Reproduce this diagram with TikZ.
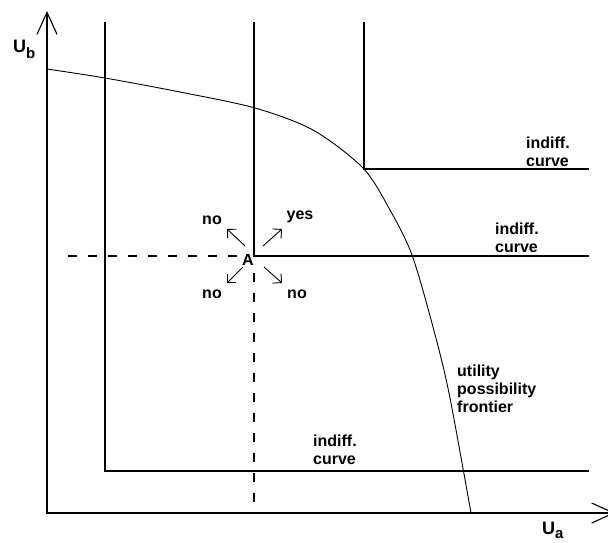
\documentclass[tikz,border=0pt]{standalone}
\usepackage{fontspec}
\setmainfont{Liberation Sans}
\usetikzlibrary{arrows.meta,calc}
\tikzset{
    axisline/.style={line width=1.1pt,
        {Straight Barb[length=22pt, width=20pt]}-{Straight Barb[length=22pt, width=20pt]}},
    indiffline/.style={line width=1.1pt},
    guideline/.style={line width=1.1pt, dash pattern=on 9pt off 11pt},
    frontierline/.style={line width=0.9pt},
    movearrow/.style={line width=0.9pt, -{Straight Barb[angle=90:9pt]}},
    lbl/.style={font=\bfseries\fontsize{16}{18}\selectfont, inner sep=0pt, align=left}
}

\begin{document}
\begin{tikzpicture}[x=1pt, y=-1pt]
\useasboundingbox (0,0) rectangle (608,542);
\clip (0,0) rectangle (608,542);
\coordinate (ytip) at (47,11);
\coordinate (origin) at (47,513);
\coordinate (xtip) at (615,513);
\coordinate (A) at (254,256);
\draw[axisline] (ytip) -- (origin) -- (xtip);
\draw[indiffline] (105,22) -- (105,471) -- (589,471);
\draw[indiffline] (254,22) -- (A) -- (589,256);
\draw[indiffline] (364,22) -- (364,169) -- (589,169);
\draw[frontierline] plot[smooth] coordinates {(47,69) (105,78) (180,92) (255,108)
    (313,130) (363,168) (390,210) (412,255) (433,327) (449,393) (471,513)};
\draw[guideline] (237,256) -- (58,256);
\draw[guideline] (254,502) -- (254,268);
\draw[movearrow] ($(A)+(-9,-10)$) -- ($(A)+(-27,-27)$);
\draw[movearrow] ($(A)+(9,-10)$) -- ($(A)+(28,-27)$);
\draw[movearrow] ($(A)+(-11,11)$) -- ($(A)+(-27,27)$);
\draw[movearrow] ($(A)+(10,11)$) -- ($(A)+(28,27)$);
\node[lbl, anchor=base] (Alabel) at (248,265) {A};
\node[lbl, anchor=base] (yes) at (300,219) {yes};
\node[lbl, anchor=base] (noNW) at (212,224) {no};
\node[lbl, anchor=base] (noSW) at (212,298) {no};
\node[lbl, anchor=base] (noSE) at (297,298) {no};
\node[lbl, anchor=north west] (indiffTop) at (526,137) {indiff.\\curve};
\node[lbl, anchor=north west] (indiffMid) at (495,223) {indiff.\\curve};
\node[lbl, anchor=north west] (indiffLow) at (313,435) {indiff.\\curve};
\node[lbl, anchor=north west] (upf) at (457,365) {utility\\possibility\\frontier};
\node[lbl, anchor=base west] (Ub) at (13,52)
    {\fontsize{18}{18}\selectfont U\raisebox{-6pt}{\fontsize{15}{15}\selectfont b}};
\node[lbl, anchor=base west] (Ua) at (542,534)
    {\fontsize{18}{18}\selectfont U\raisebox{-4pt}{\fontsize{15}{15}\selectfont a}};
\end{tikzpicture}
\end{document}
